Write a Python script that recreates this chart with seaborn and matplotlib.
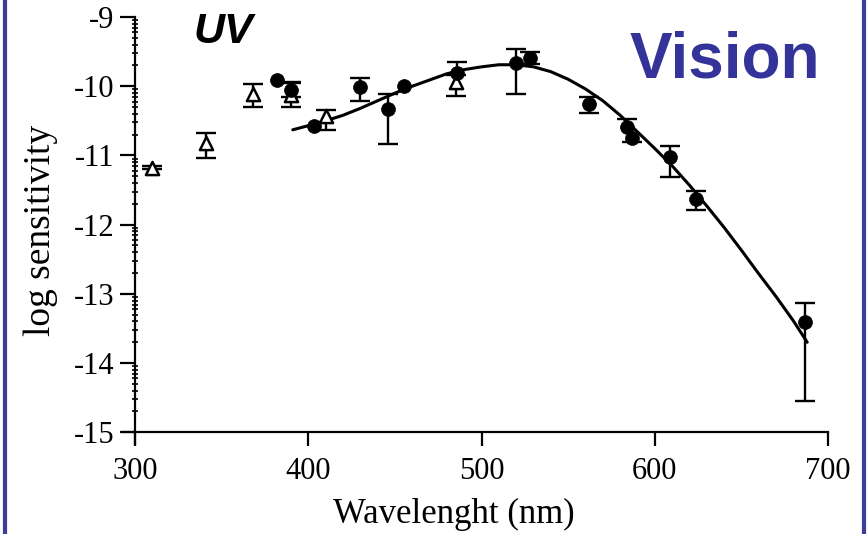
import numpy as np
import matplotlib
matplotlib.use("Agg")
import matplotlib.pyplot as plt
import seaborn as sns
from matplotlib.lines import Line2D

# ---- data ----
circle_nm = [382, 390, 403, 430, 446, 455, 486, 520, 528, 562, 584, 587, 609, 624, 687]
circle_val = [-9.91, -10.05, -10.58, -10.01, -10.33, -10.00, -9.81, -9.67, -9.59,
              -10.26, -10.59, -10.75, -11.02, -11.63, -13.41]
circle_err_lo = [0.0, 0.11, 0.0, 0.20, 0.51, 0.0, 0.0, 0.44, 0.09, 0.12, 0.0, 0.06, 0.29, 0.16, 1.14]
circle_err_hi = [0.0, 0.11, 0.0, 0.13, 0.22, 0.0, 0.16, 0.21, 0.09, 0.10, 0.12, 0.0, 0.16, 0.12, 0.28]

tri_nm = [310, 341, 368, 390, 410, 485]
tri_val = [-11.18, -10.82, -10.11, -10.13, -10.43, -9.94]
tri_err_lo = [0.02, 0.22, 0.19, 0.17, 0.20, 0.20]
tri_err_hi = [0.02, 0.14, 0.14, 0.17, 0.09, 0.10]

curve_nm = [391, 400, 410, 420, 430, 440, 450, 460, 470, 480, 490, 500, 510, 520,
            530, 540, 550, 560, 570, 580, 590, 600, 610, 620, 630, 640, 650, 660,
            670, 680, 688]
curve_val = [-10.63, -10.57, -10.50, -10.42, -10.32, -10.21, -10.10, -10.00, -9.91,
             -9.82, -9.76, -9.72, -9.69, -9.69, -9.72, -9.79, -9.90, -10.04, -10.21,
             -10.42, -10.66, -10.90, -11.15, -11.43, -11.73, -12.04, -12.37, -12.71,
             -13.04, -13.39, -13.70]

x_ticks = [300, 400, 500, 600, 700]
y_ticks = [-15, -14, -13, -12, -11, -10, -9]

# ---- style ----
sns.set_style("ticks")
plt.rcParams["axes.unicode_minus"] = False
plt.rcParams["font.family"] = ["Liberation Serif", "DejaVu Serif"]
plt.rcParams["text.color"] = "black"
plt.rcParams["axes.labelcolor"] = "black"
plt.rcParams["xtick.color"] = "black"
plt.rcParams["ytick.color"] = "black"

W, H = 868, 534
fig = plt.figure(figsize=(W / 100, H / 100), dpi=100)
ax = fig.add_axes([123 / W, 1 - 444 / H, (828 - 123) / W, (444 - 17) / H])
ax.set_facecolor("white")

# error bars (drawn from the data arrays)
def draw_err(xs, ys, lo, hi):
    xs = np.asarray(xs, float); ys = np.asarray(ys, float)
    lo = np.asarray(lo, float); hi = np.asarray(hi, float)
    ax.vlines(xs, ys - lo, ys + hi, color="black", lw=1.7, zorder=1)
    m = lo > 0
    ax.plot(xs[m], (ys - lo)[m], ls="none", marker="_", ms=15, mew=1.7, color="black", zorder=1)
    m = hi > 0
    ax.plot(xs[m], (ys + hi)[m], ls="none", marker="_", ms=15, mew=1.7, color="black", zorder=1)

draw_err(tri_nm, tri_val, tri_err_lo, tri_err_hi)
draw_err(circle_nm, circle_val, circle_err_lo, circle_err_hi)

sns.lineplot(x=curve_nm, y=curve_val, color="black", lw=2.2, ax=ax, zorder=2, sort=False)
sns.scatterplot(x=tri_nm, y=tri_val, marker="^", s=90, facecolor="white",
                edgecolor="black", linewidth=1.8, ax=ax, zorder=3)
sns.scatterplot(x=circle_nm, y=circle_val, marker="o", s=100, color="black",
                edgecolor="black", linewidth=0.5, ax=ax, zorder=4)

ax.set_xlim(293, 700)
ax.set_ylim(-15.17, -9)
ax.spines["left"].set_position(("data", 300))
ax.spines["bottom"].set_position(("data", -15))
ax.spines["top"].set_visible(False)
ax.spines["right"].set_visible(False)
for s in ("left", "bottom"):
    ax.spines[s].set_linewidth(1.6)
    ax.spines[s].set_color("black")

ax.set_xticks(x_ticks)
ax.set_xticklabels([str(v) for v in x_ticks])
ax.set_yticks(y_ticks)
ax.set_yticklabels([str(v) for v in y_ticks])
minor = [n + np.log10(k) for n in range(-15, -9) for k in range(2, 10)]
ax.set_yticks(minor, minor=True)

ax.tick_params(axis="x", which="major", direction="out", length=10, width=1.6,
               labelsize=22, pad=8, colors="black")
ax.tick_params(axis="y", which="major", direction="out", length=11, width=1.6,
               labelsize=22, pad=4, colors="black")
ax.tick_params(axis="y", which="minor", direction="inout", length=5, width=1.2, colors="black")

ax.set_xlabel("Wavelenght (nm)", fontsize=25, color="black")
ax.set_ylabel("log sensitivity", fontsize=27, color="black")
ax.xaxis.set_label_coords((454 - 123) / 705, (444 - 498) / 427)
ax.yaxis.set_label_coords((58 - 123) / 705, 0.5)

fig.text(193 / W, 1 - 43 / H, "UV", fontsize=31, fontweight="bold", fontstyle="italic",
         family=["Liberation Sans", "DejaVu Sans"], ha="left", va="baseline", color="black")
fig.text(630 / W, 1 - 78 / H, "Vision", fontsize=46, fontweight="bold",
         family=["Liberation Sans", "DejaVu Sans"], ha="left", va="baseline", color="#333399")

border = "#3c3c9c"
fig.add_artist(Line2D([5 / W, 5 / W], [0, 1], color=border, lw=3, transform=fig.transFigure))
fig.add_artist(Line2D([864 / W, 864 / W], [0, 1], color=border, lw=3, transform=fig.transFigure))

fig.savefig("out.png", dpi=100, facecolor="white")
